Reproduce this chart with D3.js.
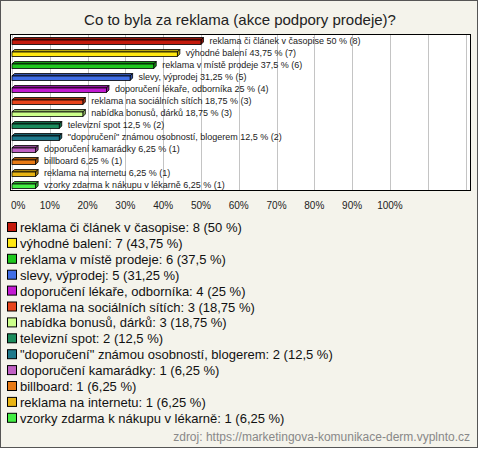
<!DOCTYPE html>
<html>
<head>
  <meta charset="utf-8">
  <title>Co to byla za reklama</title>
  <script src="https://cdnjs.cloudflare.com/ajax/libs/d3/7.8.5/d3.min.js"></script>
  <style>
    html, body { margin: 0; padding: 0; background: #fff; }
    svg { display: block; font-family: "Liberation Sans", Arial, sans-serif; }
  </style>
</head>
<body>
  <svg id="chart" width="480" height="449"></svg>
  <script>
    const categories = [
      'reklama či článek v časopise',
      'výhodné balení',
      'reklama v místě prodeje',
      'slevy, výprodej',
      'doporučení lékaře, odborníka',
      'reklama na sociálních sítích',
      'nabídka bonusů, dárků',
      'televizní spot',
      '"doporučení" známou osobností, blogerem',
      'doporučení kamarádky',
      'billboard',
      'reklama na internetu',
      'vzorky zdarma k nákupu v lékarně'
    ]
    const counts = [8, 7, 6, 5, 4, 3, 3, 2, 2, 1, 1, 1, 1]
    const percents = [50, 43.75, 37.5, 31.25, 25, 18.75, 18.75, 12.5, 12.5, 6.25, 6.25, 6.25, 6.25]
    const colors = ['#c41a0c', '#ffe812', '#1ec81e', '#3f6de6', '#c21ad2', '#e8441c', '#ccff8a',
      '#1a8c5c', '#1f7a8c', '#c060c4', '#e87a14', '#e8b414', '#44ee44']
    const tickValues = [0, 10, 20, 30, 40, 50, 60, 70, 80, 90, 100]
    const gridValues = [0, 10, 20, 30, 40, 50, 60, 70, 80, 90, 100, 110, 120]

    const fmt = v => String(v).replace('.', ',')
    const rows = categories.map((c, i) => ({ name: c, count: counts[i], pct: percents[i], color: colors[i] }))

    const svg = d3.select('#chart')

    // background + outer frame
    svg.append('rect').attr('x', 0.5).attr('y', 0.5).attr('width', 477).attr('height', 447)
      .attr('fill', '#f4f3eb').attr('stroke', '#555')

    svg.append('text').attr('x', 240).attr('y', 25).attr('text-anchor', 'middle')
      .attr('font-size', 15).attr('fill', '#222')
      .text('Co to byla za reklama (akce podpory prodeje)?')

    const x = d3.scaleLinear().domain([0, 120]).range([12, 465.5])
    const y = d3.scaleBand().domain(categories).range([35, 191])

    // plot area
    svg.append('rect').attr('x', 10.5).attr('y', 34.5).attr('width', 460).attr('height', 156)
      .attr('fill', '#fff')

    svg.append('g').selectAll('line').data(gridValues).join('line')
      .attr('x1', d => Math.round(x(d)) + 0.5).attr('x2', d => Math.round(x(d)) + 0.5)
      .attr('y1', 35).attr('y2', 190)
      .attr('stroke', '#c4c4c4')

    // 3D bars
    const dx = 2.5, dy = 2.5
    const bars = svg.append('g').selectAll('g').data(rows).join('g')
    bars.each(function (d) {
      const g = d3.select(this)
      const x0 = x(0), x1 = x(d.pct)
      const cy = y(d.name) + y.bandwidth() / 2 + 0.5
      const top = cy - 1.5, bot = cy + 3
      const dark = d3.color(d.color).darker(0.9)
      g.append('path')
        .attr('d', `M${x0},${top}L${x0 + dx},${top - dy}L${x1 + dx},${top - dy}L${x1},${top}Z`)
        .attr('fill', dark).attr('stroke', '#000').attr('stroke-width', 0.8)
      g.append('path')
        .attr('d', `M${x1},${top}L${x1 + dx},${top - dy}L${x1 + dx},${bot - dy}L${x1},${bot}Z`)
        .attr('fill', dark).attr('stroke', '#000').attr('stroke-width', 0.8)
      g.append('rect').attr('x', x0).attr('y', top).attr('width', x1 - x0).attr('height', bot - top)
        .attr('fill', d.color).attr('stroke', '#000').attr('stroke-width', 0.8)
      g.append('text').attr('x', x1 + dx + 6).attr('y', cy + 2.5)
        .attr('font-size', 9).attr('fill', '#222')
        .text(`${d.name} ${fmt(d.pct)} % (${d.count})`)
    })

    svg.append('rect').attr('x', 10.5).attr('y', 34.5).attr('width', 460).attr('height', 156)
      .attr('fill', 'none').attr('stroke', '#000')

    // x axis labels
    svg.append('g').selectAll('text').data(tickValues).join('text')
      .attr('x', d => d === 0 ? 11 : x(d))
      .attr('y', 209)
      .attr('text-anchor', d => d === 0 ? 'start' : 'middle')
      .attr('font-size', 10).attr('fill', '#222')
      .text(d => d + '%')

    // legend
    const legend = svg.append('g').selectAll('g').data(rows).join('g')
      .attr('transform', (d, i) => `translate(0,${227 + i * 15.9})`)
    legend.append('rect').attr('x', 7.5).attr('y', -4.5).attr('width', 9).attr('height', 9)
      .attr('fill', d => d.color).attr('stroke', '#000')
    legend.append('text').attr('x', 20).attr('y', 5)
      .attr('font-size', 13).attr('fill', '#111')
      .text(d => `${d.name}: ${d.count} (${fmt(d.pct)} %)`)

    svg.append('text').attr('x', 470).attr('y', 441).attr('text-anchor', 'end')
      .attr('font-size', 12).attr('fill', '#888')
      .text('zdroj: https://marketingova-komunikace-derm.vyplnto.cz')
  </script>
</body>
</html>
